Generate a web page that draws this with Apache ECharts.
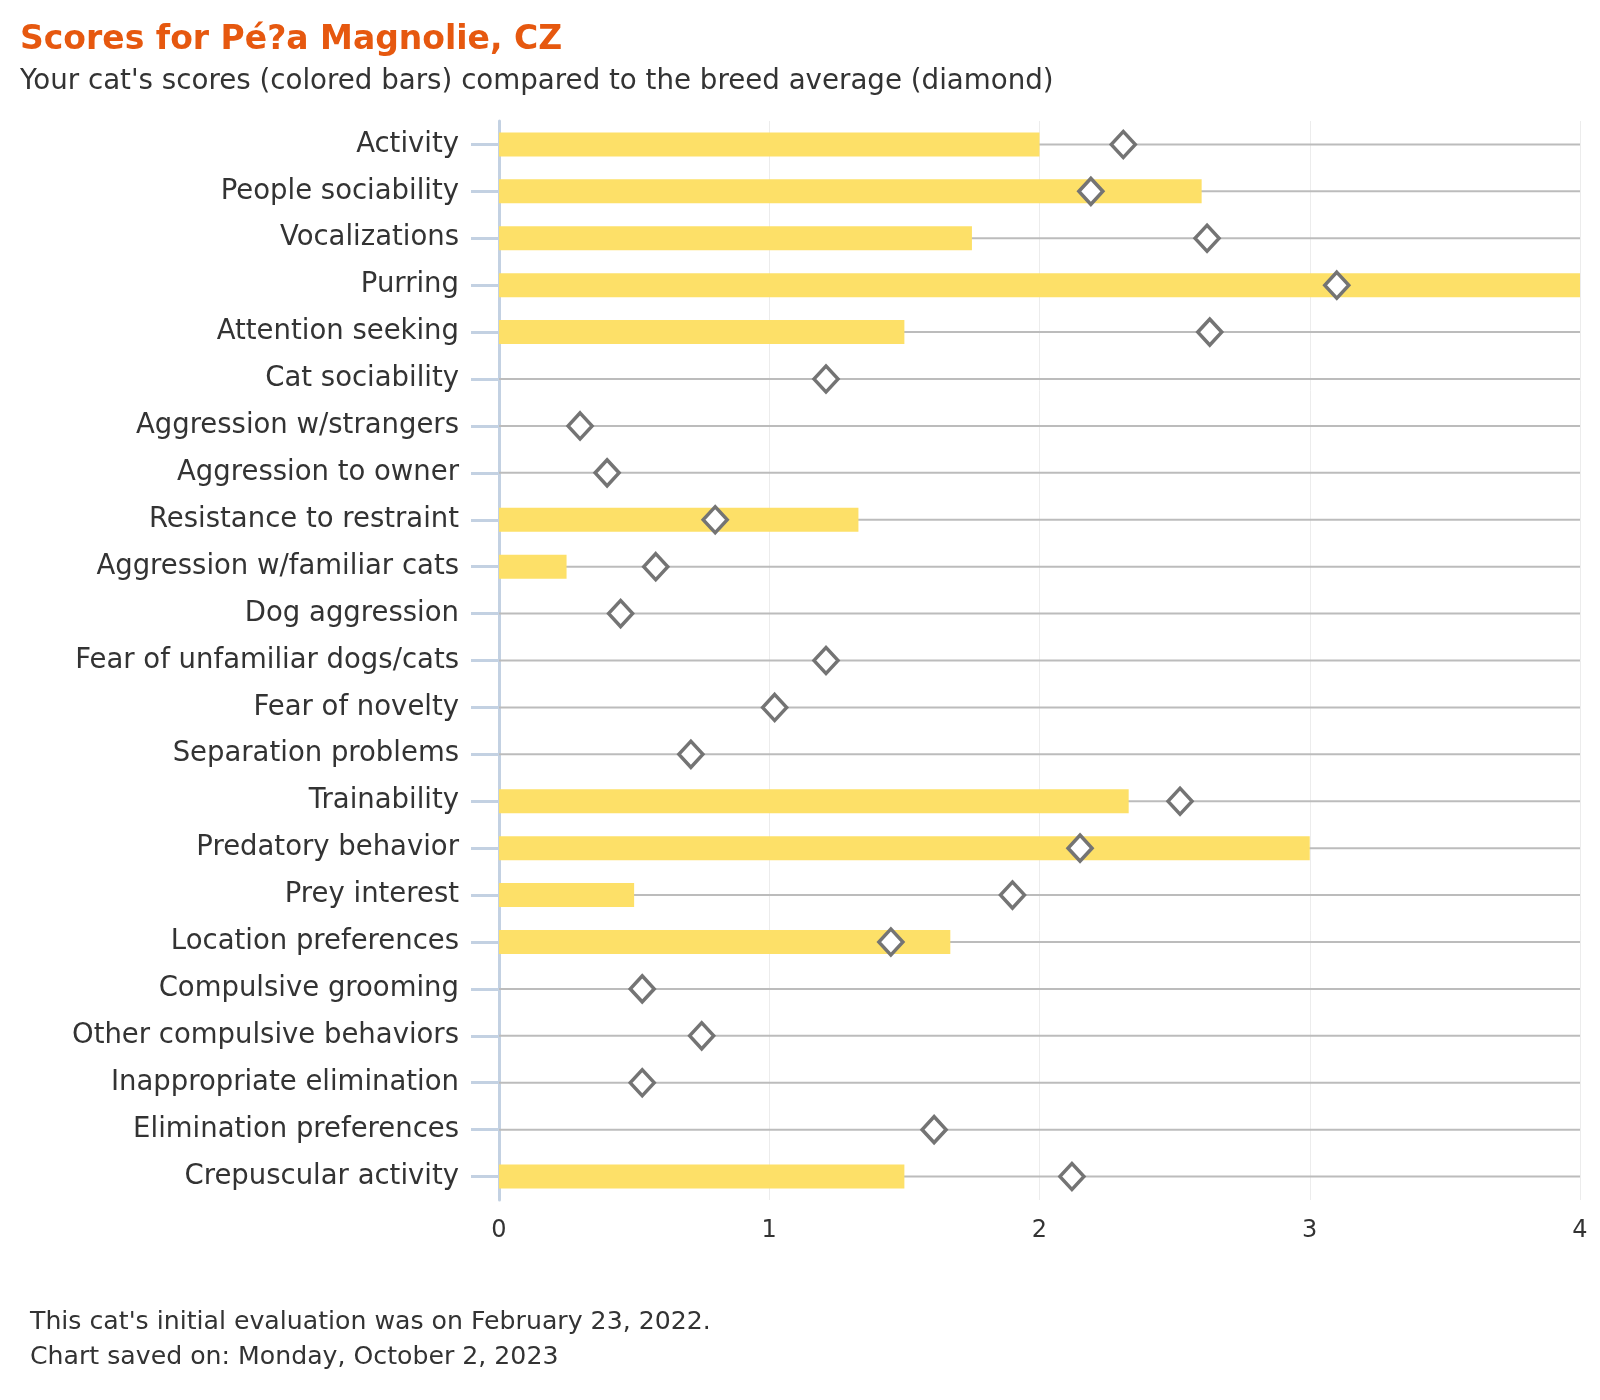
<!DOCTYPE html>
<html>
<head>
<meta charset="utf-8">
<script src="https://cdn.jsdelivr.net/npm/echarts@6/dist/echarts.min.js"></script>
<style>html,body{margin:0;padding:0;background:#fff}#c{width:1600px;height:1400px}</style>
</head>
<body>
<div id="c"></div>
<script>
const categories = ["Activity","People sociability","Vocalizations","Purring","Attention seeking","Cat sociability","Aggression w/strangers","Aggression to owner","Resistance to restraint","Aggression w/familiar cats","Dog aggression","Fear of unfamiliar dogs/cats","Fear of novelty","Separation problems","Trainability","Predatory behavior","Prey interest","Location preferences","Compulsive grooming","Other compulsive behaviors","Inappropriate elimination","Elimination preferences","Crepuscular activity"];
const catScores = [2.0,2.6,1.75,4.0,1.5,0,0,0,1.33,0.25,0,0,0,0,2.33,3.0,0.5,1.67,0,0,0,0,1.5];
const breedAverage = [2.31,2.19,2.62,3.10,2.63,1.21,0.30,0.40,0.80,0.58,0.45,1.21,1.02,0.71,2.52,2.15,1.90,1.45,0.53,0.75,0.53,1.61,2.12];
const xTicks = [0,1,2,3,4];

const FONT = "'DejaVu Sans', sans-serif";
const chart = echarts.init(document.getElementById('c'));
chart.setOption({
  backgroundColor: '#fff',
  animation: false,
  textStyle: {fontFamily: FONT},
  title: [
    {text: 'Scores for Pé?a Magnolie, CZ', left: 20, top: 24, padding: 0, textStyle: {fontFamily: FONT, fontSize: 33, fontWeight: 'bold', color: '#e6580f'}},
    {text: "Your cat's scores (colored bars) compared to the breed average (diamond)", left: 20, top: 68, padding: 0, textStyle: {fontFamily: FONT, fontSize: 27.7, fontWeight: 'normal', color: '#333'}},
    {text: "This cat's initial evaluation was on February 23, 2022.", left: 30, top: 1310, padding: 0, textStyle: {fontFamily: FONT, fontSize: 25.2, fontWeight: 'normal', color: '#333'}},
    {text: "Chart saved on: Monday, October 2, 2023", left: 30, top: 1345, padding: 0, textStyle: {fontFamily: FONT, fontSize: 25.2, fontWeight: 'normal', color: '#333'}}
  ],
  grid: {left: 499, right: 20, top: 121, bottom: 200, containLabel: false},
  xAxis: {
    type: 'value', min: xTicks[0], max: xTicks[xTicks.length-1], interval: 1,
    axisLine: {show: false}, axisTick: {show: false},
    axisLabel: {fontSize: 24, color: '#333', margin: 19, fontFamily: FONT, showMinLabel: true, showMaxLabel: true},
    splitLine: {show: true, lineStyle: {color: '#ececec', width: 1}}
  },
  yAxis: {
    type: 'category', data: categories, inverse: true,
    axisLine: {show: true, lineStyle: {color: '#c3d1e2', width: 3}},
    axisTick: {show: true, alignWithLabel: true, length: 28, lineStyle: {color: '#c3d1e2', width: 3}},
    axisLabel: {fontSize: 27.5, color: '#333', margin: 40, fontFamily: FONT, padding: [4, 0, 0, 0]},
    splitLine: {show: false}
  },
  series: [
    {
      type: 'custom', name: 'rowline', z: 1, silent: true,
      data: categories.map((c, i) => i),
      encode: {y: 0},
      renderItem: function (params, api) {
        const y = api.coord([0, api.value(0)])[1];
        const cs = params.coordSys;
        return {type: 'line', shape: {x1: cs.x, y1: y, x2: cs.x + cs.width, y2: y}, style: {stroke: '#bcbcbc', lineWidth: 2}};
      }
    },
    {
      type: 'bar', name: 'Your cat', data: catScores, barWidth: 24, z: 2,
      itemStyle: {color: '#fde068'}
    },
    {
      type: 'scatter', name: 'Breed average', data: breedAverage, z: 3,
      symbol: 'diamond', symbolSize: [24, 26],
      itemStyle: {color: '#ffffff', opacity: 1, borderColor: '#747474', borderWidth: 3.5}
    }
  ]
});
</script>
</body>
</html>
